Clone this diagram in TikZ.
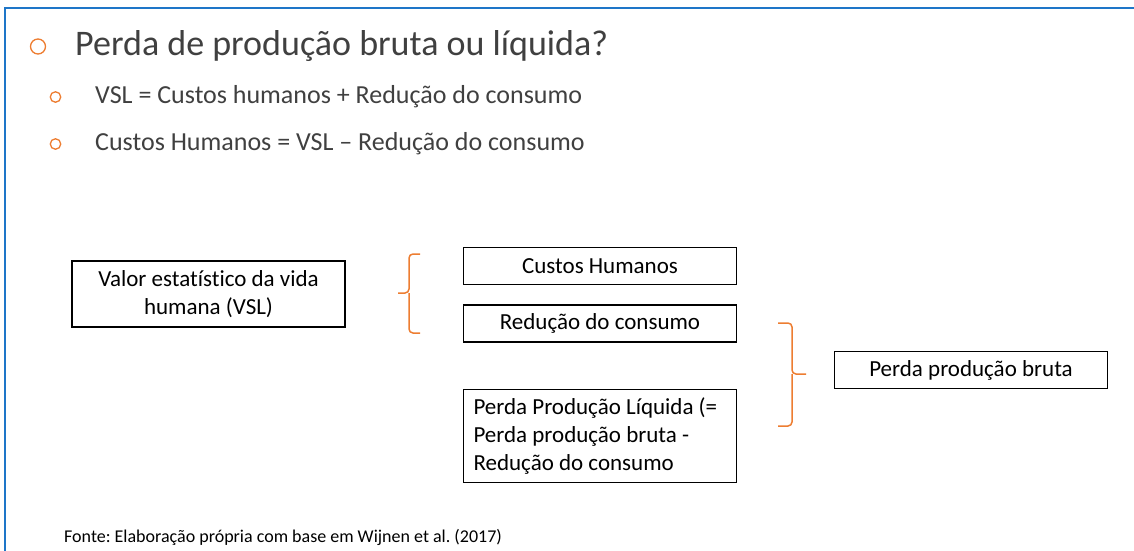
\documentclass[tikz,border=0pt]{standalone}
\usepackage{fontspec}
\setmainfont{Carlito}[Ligatures={NoCommon}]
\definecolor{frameblue}{RGB}{30,118,200}
\definecolor{orng}{RGB}{237,125,49}
\definecolor{dgray}{RGB}{64,64,64}
\frenchspacing
\begin{document}
\begin{tikzpicture}[x=1pt,y=-1pt,
  box/.style={draw=black,line width=1.2pt,fill=white,minimum width=273pt,inner sep=0pt,font=\fontsize{23}{28}\selectfont,align=center},
  brk/.style={draw=orng,line width=1.5pt,rounded corners=4pt},
  bul/.style={draw=orng,line width=1.3pt,circle,inner sep=0pt},
  txt/.style={text=dgray,anchor=base west,inner sep=0pt}]
\useasboundingbox (0,0) rectangle (1134,550);
\draw[frameblue,line width=2.5pt] (5,551) -- (5,8) -- (1135,8);
% title and bullets
\node[bul,minimum size=15pt] (b0) at (38,46.5) {};
\node[txt,font=\fontsize{36}{40}\selectfont] (title) at (75,55) {Perda de produção bruta ou líquida?};
\node[bul,minimum size=10.5pt] (b1) at (55.5,97) {};
\node[txt,font=\fontsize{26}{30}\selectfont] (it1) at (95,103) {VSL = Custos humanos + Redução do consumo};
\node[bul,minimum size=10.5pt] (b2) at (55.5,144) {};
\node[txt,font=\fontsize{26}{30}\selectfont] (it2) at (95,150) {Custos Humanos = VSL -- Redução do consumo};
% boxes
\node[box,minimum height=66pt] (vsl) at (208.5,294) {Valor estatístico da vida\\humana (VSL)};
\node[box,minimum height=37pt] (ch) at (600,266) {Custos Humanos};
\node[box,minimum height=37pt] (rc) at (600,323.5) {Redução do consumo};
\node[box,minimum height=93pt,text width=253pt,align=flush left] (pl) at (600,436) {Perda Produção Líquida (=\\Perda produção bruta -\\Redução do consumo};
\node[box,minimum height=37pt] (pb) at (971,370) {Perda produção bruta};
% brackets
\draw[brk] (420,254) -| (409,293) -- (398,293);
\draw[brk] (420,333) -| (409,293);
\draw[brk] (778,323) -| (792,374) -- (806,374);
\draw[brk] (778,426) -| (792,374);
% source
\node[txt,text=black,font=\fontsize{18}{21}\selectfont] (src) at (64,542) {Fonte: Elaboração própria com base em Wijnen et al. (2017)};
\end{tikzpicture}
\end{document}
